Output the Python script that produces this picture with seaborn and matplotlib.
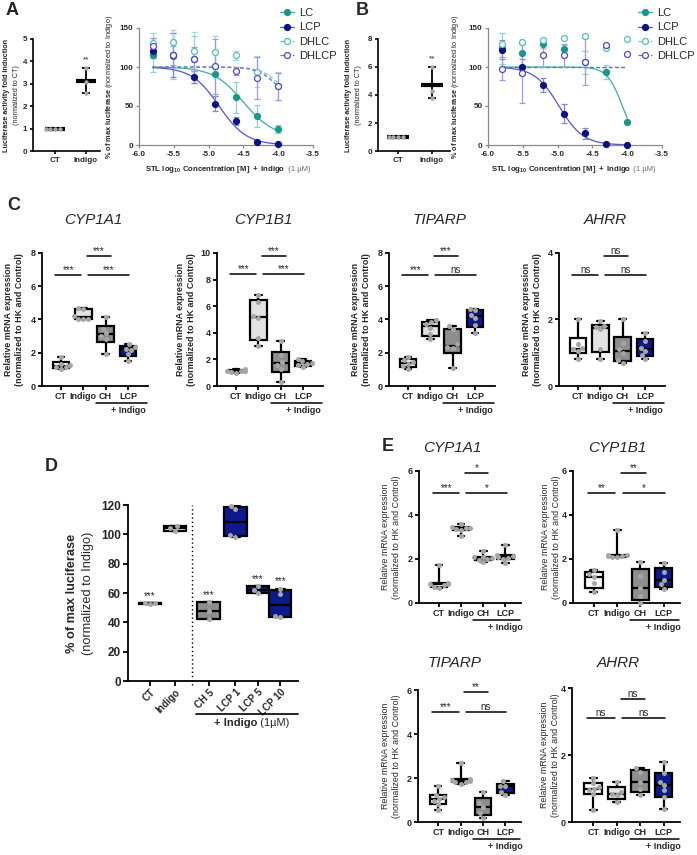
import numpy as np
import pandas as pd
import matplotlib.pyplot as plt
from matplotlib.lines import Line2D
import seaborn as sns
import warnings

warnings.filterwarnings('ignore')

# ---------------- data ----------------
# A / B : dose response, log10 concentration [M]
log_conc = [-5.806, -5.505, -5.204, -4.903, -4.602, -4.301, -4.0]
series_names = ['LC', 'LCP', 'DHLC', 'DHLCP']

a_lc = [115, 114, 110, 91, 61, 37, 21]
a_lc_err = [22, 30, 30, 28, 20, 14, 5]
a_lcp = [121, 115, 87, 53, 31, 4, 1]
a_lcp_err = [10, 28, 8, 10, 5, 1, 1]
a_dhlc = [131, 132, 120, 119, 115, 94, 76]
a_dhlc_err = [12, 15, 25, 21, 6, 20, 18]
a_dhlcp = [127, 115, 110, 101, 95, 86, 75]
a_dhlcp_err = [10, 12, 15, 35, 5, 27, 17]

b_lc = [124, 118, 129, 123, 106, 94, 30]
b_lc_err = [20, 15, 5, 5, 15, 9, 1]
b_lcp = [122, 100, 77, 40, 15, 1, 0]
b_lcp_err = [12, 10, 9, 12, 7, 0, 0]
b_dhlc = [130, 132, 135, 137, 140, 124, 136]
b_dhlc_err = [0, 0, 0, 0, 0, 0, 0]
b_dhlcp = [98, 92, 115, 115, 107, 128, 117]
b_dhlcp_err = [15, 38, 15, 15, 30, 0, 0]

# fitted 4PL curves: top, bottom, logIC50, hill (LC, LCP, DHLC, DHLCP)
a_fit_top = [100, 100, 100, 100]
a_fit_bottom = [10, 0, 50, 50]
a_fit_logic50 = [-4.5, -4.85, -3.95, -4.0]
a_fit_hill = [2.0, 2.2, 3.0, 3.0]
b_fit_top = [100, 100, 100, 100]
b_fit_bottom = [0, 0, 100, 100]
b_fit_logic50 = [-4.07, -4.98, -4.0, -4.0]
b_fit_hill = [4.0, 2.5, 1.0, 1.0]

# A / B insets: fold induction
fold_groups = ['CT', 'Indigo']
a_fold_ct = [1.0, 1.0, 1.0, 1.0]
a_fold_indigo = [2.6, 3.1, 3.7]
b_fold_ct = [1.0, 1.0, 1.0, 1.0]
b_fold_indigo = [3.8, 4.3, 6.0]

# C / E : relative mRNA expression
qpcr_groups = ['CT', 'Indigo', 'CH', 'LCP']
c_cyp1a1 = [[1.0, 1.13, 1.15, 1.25, 1.35, 1.75], [4.0, 4.02, 4.05, 4.2, 4.62, 4.68],
            [1.95, 2.85, 3.0, 3.2, 3.45, 4.15], [1.5, 1.9, 2.15, 2.25, 2.35, 2.5]]
c_cyp1b1 = [[1.0, 1.05, 1.1, 1.12, 1.15, 1.25], [3.0, 3.6, 5.15, 5.25, 6.35, 6.85],
            [0.3, 1.3, 1.6, 1.8, 2.3, 3.4], [1.4, 1.55, 1.65, 1.75, 1.85, 2.0]]
c_tiparp = [[1.05, 1.2, 1.35, 1.45, 1.55, 1.75], [2.8, 3.1, 3.5, 3.7, 3.85, 3.95],
            [1.1, 2.3, 2.35, 2.5, 3.4, 3.6], [3.2, 3.65, 4.1, 4.3, 4.55, 4.65]]
c_ahrr = [[0.8, 1.05, 1.1, 1.15, 1.25, 2.0], [0.8, 1.1, 1.7, 1.78, 1.8, 1.95],
          [0.7, 0.78, 1.0, 1.1, 1.3, 2.0], [0.8, 0.92, 1.05, 1.15, 1.35, 1.6]]

e_cyp1a1 = [[0.7, 0.75, 0.8, 0.85, 0.88, 0.9, 1.75], [3.05, 3.3, 3.35, 3.4, 3.42, 3.45, 3.6],
            [1.85, 1.95, 2.0, 2.05, 2.08, 2.1, 2.35], [1.8, 2.0, 2.05, 2.1, 2.15, 2.2, 2.65]]
e_cyp1b1 = [[0.5, 0.9, 1.2, 1.3, 1.5], [2.1, 2.1, 2.12, 2.15, 2.18, 2.2, 3.3],
            [0.0, 0.3, 0.7, 1.25, 1.85], [0.65, 0.85, 1.05, 1.4, 1.8]]
e_tiparp = [[0.55, 0.8, 0.95, 1.05, 1.15, 1.25, 1.65], [1.75, 1.8, 1.82, 1.85, 1.9, 1.95, 2.7],
            [0.2, 0.4, 0.7, 0.85, 1.35], [1.25, 1.35, 1.65, 1.65, 1.85]]
e_ahrr = [[0.35, 0.85, 0.95, 1.0, 1.05, 1.15, 1.3], [0.6, 0.8, 0.85, 0.9, 1.2],
          [0.8, 1.0, 1.2, 1.5, 1.6], [0.4, 0.75, 0.95, 1.1, 1.2, 1.45, 1.8]]

# D : % of max luciferase
d_groups = ['CT', 'Indigo', 'CH 5', 'LCP 1', 'LCP 5', 'LCP 10']
d_values = [[52.8, 53.0, 53.2], [102.5, 104, 105.5], [42.5, 48, 54],
            [98.5, 99.5, 117, 119], [60, 62, 64.5], [43.5, 44.5, 59.5, 63]]
d_stars = ['***', '', '***', '', '***', '***']

# ---------------- style ----------------
sns.set_style('ticks')
plt.rcParams['font.family'] = ['Liberation Sans', 'DejaVu Sans']
plt.rcParams['font.weight'] = 'bold'
plt.rcParams['mathtext.fontset'] = 'custom'
plt.rcParams['mathtext.rm'] = 'Liberation Sans'
plt.rcParams['mathtext.bf'] = 'Liberation Sans:bold'
plt.rcParams['mathtext.it'] = 'Liberation Sans:italic'

WHITE, LIGHT, GREY, NAVY = 'white', '#e2e2e2', '#8e8e8e', '#0c1a8a'
PT = '#a6a6a6'
styles = {
    'LC': dict(line='#3aaea1', err='#8fd4cb', mfc='#1a968a', mec='#1a968a', ls='-'),
    'LCP': dict(line='#5552cc', err='#8985d6', mfc='#0a1382', mec='#0a1382', ls='-'),
    'DHLC': dict(line='#6cc8bd', err='#9fdcd4', mfc='white', mec='#55bfb3', ls=(0, (3, 2))),
    'DHLCP': dict(line='#6d63d0', err='#a09be0', mfc='white', mec='#5148c4', ls=(0, (3, 2))),
}

W, H = 697, 855
fig = plt.figure(figsize=(W / 100, H / 100), dpi=100)


def add_ax(l, t, r, b):
    return fig.add_axes([l / W, 1 - b / H, (r - l) / W, (b - t) / H])


def style_ax(ax, lw=1.3, color='k', fs=6.5, tl=3):
    sns.despine(ax=ax)
    for s in ('left', 'bottom'):
        ax.spines[s].set_linewidth(lw)
        ax.spines[s].set_color(color)
    ax.tick_params(width=lw, length=tl, color=color, labelsize=fs, pad=1.5)
    ax.set_xlabel('')
    ax.set_ylabel('')


def vlabel(x, y, text, fs, weight='bold'):
    fig.text(x / W, 1 - y / H, text, rotation=90, ha='center', va='center',
             fontsize=fs, fontweight=weight, multialignment='center', linespacing=1.15)


def panel_letter(x, y, s):
    fig.text(x / W, 1 - y / H, s, fontsize=13, fontweight='bold', va='top', ha='left')


def sig(ax, x1, x2, y, txt, fs=7):
    ax.plot([x1, x2], [y, y], color='k', lw=1.1, clip_on=False)
    ax.text((x1 + x2) / 2, y, txt, ha='center', va='bottom', fontsize=fs, fontweight='normal')


def points(ax, pts, positions, size):
    df = pd.DataFrame({'pos': np.repeat(positions, [len(p) for p in pts]),
                       'val': np.concatenate(pts)})
    sns.swarmplot(data=df, x='pos', y='val', native_scale=True, color=PT, size=size,
                  ax=ax, zorder=3, clip_on=False)


def box_panel(ax, pts, colors, positions, width):
    stats = []
    for p in pts:
        q1, med, q3 = np.percentile(p, [25, 50, 75], method='weibull')
        stats.append(dict(q1=q1, med=med, q3=q3, whislo=min(p), whishi=max(p)))
    bp = ax.bxp(stats, positions=positions, widths=width, capwidths=width * 0.4,
                patch_artist=True, showfliers=False, manage_ticks=False,
                boxprops=dict(lw=1.6, edgecolor='k'), medianprops=dict(color='k', lw=1.6),
                whiskerprops=dict(color='k', lw=1.6), capprops=dict(color='k', lw=1.6))
    for patch, c in zip(bp['boxes'], colors):
        patch.set_facecolor(c)
    points(ax, pts, positions, 3.6)


def qpcr_panel(box, pts, colors, ymax, yticks, stars, levels, xlim, title, title_xy,
               ylab_x, bold_label=True):
    ax = add_ax(*box)
    ax.set_ylim(0, ymax)
    box_panel(ax, pts, colors, list(range(4)), 0.74)
    ax.set_xlim(*xlim)
    ax.set_ylim(0, ymax)
    ax.set_yticks(yticks)
    ax.set_xticks(range(4))
    ax.set_xticklabels(qpcr_groups)
    style_ax(ax)
    sig(ax, -0.27, 0.92, levels[0], stars[0])
    sig(ax, 1.17, 2.22, levels[1], stars[1])
    sig(ax, 1.23, 3.05, levels[0], stars[2])
    tr = ax.get_xaxis_transform()
    ax.plot([1.55, xlim[1] - 0.05], [-0.128, -0.128], color='k', lw=1.1, transform=tr, clip_on=False)
    ax.text(3.0, -0.15, '+ Indigo', transform=tr, ha='center', va='top', fontsize=6.5)
    fig.text(title_xy[0] / W, 1 - title_xy[1] / H, title, fontsize=11, style='italic',
             fontweight='normal', ha='center', va='center')
    yc = (box[1] + box[3]) / 2
    vlabel(ylab_x, yc, 'Relative mRNA expression\n(normalized to HK and Control)', 6.4,
           'bold' if bold_label else 'normal')
    return ax


def dose_panel(box, data, errs, tops, bottoms, ic50s, hills, ylab_x, xlab_frac):
    ax = add_ax(*box)
    xs = np.linspace(log_conc[0], log_conc[-1], 200)
    for name, y, e, top, bot, c50, h in zip(series_names, data, errs, tops, bottoms, ic50s, hills):
        st = styles[name]
        fit = bot + (top - bot) / (1 + 10 ** ((xs - c50) * h))
        sns.lineplot(x=xs, y=fit, ax=ax, color=st['line'], lw=0.9, linestyle=st['ls'])
        ax.errorbar(log_conc, y, yerr=e, fmt='none', ecolor=st['err'], elinewidth=0.9,
                    capsize=2.5, capthick=0.9, clip_on=False)
        ax.plot(log_conc, y, 'o', ms=4.3, mfc=st['mfc'], mec=st['mec'], mew=0.9,
                ls='none', clip_on=False, zorder=4)
    ax.set_xlim(-6.0, -3.5)
    ax.set_ylim(0, 150)
    ax.set_xticks([-6.0, -5.5, -5.0, -4.5, -4.0, -3.5])
    ax.set_xticklabels(['-6.0', '-5.5', '-5.0', '-4.5', '-4.0', '-3.5'])
    ax.set_yticks([0, 50, 100, 150])
    style_ax(ax, lw=0.9, color='#8a8a8a', fs=5.8, tl=2.5)
    t1 = ax.text(xlab_frac, -0.16, r'$\mathbf{STL\ log_{10}\ Concentration\ [M]\ +\ Indigo}$',
                 transform=ax.transAxes, ha='center', va='top', fontsize=5.6)
    ax.annotate(' (1 µM)', xy=(1, 0.12), xycoords=t1, ha='left', va='bottom',
                fontsize=5.6, fontweight='normal', color='#6a6a6a')
    fig.text(ylab_x / W, 1 - ((box[1] + box[3]) / 2) / H,
             r'$\mathbf{\%\ of\ max\ luciferase}$ (normalized to Indigo)', rotation=90,
             ha='center', va='center', fontsize=5.3, fontweight='normal')
    return ax


def fold_panel(box, pts, ymax, yticks, star_y, ylab_xs, xlim):
    ax = add_ax(*box)
    ax.set_xlim(*xlim)
    ax.set_ylim(0, ymax)
    for i, p in enumerate(pts):
        m = np.mean(p)
        ax.errorbar(i, m, yerr=[[m - min(p)], [max(p) - m]], fmt='none', ecolor='k',
                    elinewidth=1.3, capsize=3, capthick=1.3)
        ax.hlines(m, i - 0.32, i + 0.32, color='k', lw=3)
    points(ax, pts, [0, 1], 3.2)
    ax.text(1, star_y, '**', ha='center', va='bottom', fontsize=6, fontweight='normal')
    ax.set_xlim(*xlim)
    ax.set_ylim(0, ymax)
    ax.set_yticks(yticks)
    ax.set_xticks([0, 1])
    ax.set_xticklabels(fold_groups)
    style_ax(ax, lw=1.2, fs=5.8, tl=2.5)
    yc = (box[1] + box[3]) / 2
    vlabel(ylab_xs[0], yc, 'Luciferase activity fold induction', 5.2, 'bold')
    vlabel(ylab_xs[1], yc, '(normalized to CT)', 5.2, 'normal')
    return ax


# ---------------- A ----------------
panel_letter(6, 2, 'A')
fold_panel((33, 39, 100, 151), [a_fold_ct, a_fold_indigo], 5, [0, 1, 2, 3, 4, 5], 3.9, (7, 16),
           (-0.71, 1.45))
dose_panel((139, 28, 313, 145), [a_lc, a_lcp, a_dhlc, a_dhlcp],
           [a_lc_err, a_lcp_err, a_dhlc_err, a_dhlcp_err],
           a_fit_top, a_fit_bottom, a_fit_logic50, a_fit_hill, 110, 0.44)

# ---------------- B ----------------
panel_letter(356, 2, 'B')
fold_panel((378, 39, 450, 151), [b_fold_ct, b_fold_indigo], 8, [0, 2, 4, 6, 8], 6.3, (349, 358),
           (-0.59, 1.53))
dose_panel((488, 28, 662, 145), [b_lc, b_lcp, b_dhlc, b_dhlcp],
           [b_lc_err, b_lcp_err, b_dhlc_err, b_dhlcp_err],
           b_fit_top, b_fit_bottom, b_fit_logic50, b_fit_hill, 456, 0.42)

handles = [Line2D([], [], color=styles[n]['line'], ls=styles[n]['ls'], lw=0.9, marker='o', ms=4.3,
                  mfc=styles[n]['mfc'], mec=styles[n]['mec'], mew=0.9) for n in series_names]
for x0 in (280, 638):
    fig.legend(handles, series_names, loc='upper left', bbox_to_anchor=(x0 / W, 1 - 8 / H),
               frameon=False, prop=dict(size=8, weight='normal'), handlelength=1.3,
               handletextpad=0.4, labelspacing=0.4, borderpad=0, borderaxespad=0)

# ---------------- C ----------------
panel_letter(7, 197, 'C')
c_xlim = (-0.85, 3.9)
qpcr_panel((42, 253, 148, 386), c_cyp1a1, [WHITE, LIGHT, GREY, NAVY], 8, [0, 2, 4, 6, 8],
           ['***', '***', '***'], [6.7, 7.8], c_xlim, 'CYP1A1', (93, 220), 14)
qpcr_panel((217, 253, 323, 386), c_cyp1b1, [WHITE, LIGHT, GREY, LIGHT], 10, [0, 2, 4, 6, 8, 10],
           ['***', '***', '***'], [8.4, 9.75], c_xlim, 'CYP1B1', (263, 220), 186)
qpcr_panel((389, 253, 495, 386), c_tiparp, [WHITE, LIGHT, GREY, NAVY], 8, [0, 2, 4, 6, 8],
           ['***', '***', 'ns'], [6.7, 7.8], c_xlim, 'TIPARP', (440, 220), 361)
qpcr_panel((559, 253, 665, 386), c_ahrr, [WHITE, LIGHT, GREY, NAVY], 4, [0, 2, 4],
           ['ns', 'ns', 'ns'], [3.35, 3.9], c_xlim, 'AHRR', (605, 220), 532)

# ---------------- D ----------------
panel_letter(45, 458, 'D')
d_pos = [0, 1.1, 2.6, 3.8, 4.8, 5.8]
ax = add_ax(128, 505, 298, 681)
ax.set_xlim(-0.98, 6.58)
ax.set_ylim(0, 120)
box_panel(ax, d_values, [WHITE, WHITE, GREY, NAVY, NAVY, NAVY], d_pos, 0.98)
ax.axvline(1.87, color='k', lw=1.0, ls=(0, (1, 2)), ymin=-0.02, ymax=1.0, clip_on=False)
for x, v, s in zip(d_pos, d_values, d_stars):
    if s:
        ax.text(x, max(v) + 1.5, s, ha='center', va='bottom', fontsize=7, fontweight='normal')
ax.set_xlim(-0.98, 6.58)
ax.set_ylim(0, 120)
ax.set_yticks(range(0, 121, 20))
ax.set_xticks(d_pos)
ax.set_xticklabels(d_groups, rotation=45, ha='right', rotation_mode='anchor')
style_ax(ax, lw=1.3, fs=8.5, tl=3.5)
ax.tick_params(axis='x', labelsize=7.0, pad=1)
tr = ax.get_xaxis_transform()
ax.plot([2.04, 6.58], [-0.19, -0.19], color='k', lw=1.2, transform=tr, clip_on=False)
t1 = ax.text(3.8, -0.212, '+ Indigo', transform=tr, ha='center', va='top', fontsize=8)
ax.annotate(' (1µM)', xy=(1, 0), xycoords=t1, ha='left', va='bottom', fontsize=8,
            fontweight='normal')
vlabel(72, 593, '% of max luciferase', 9.2, 'bold')
vlabel(88, 593, '(normalized to Indigo)', 9.2, 'normal')

# ---------------- E ----------------
panel_letter(382, 438, 'E')
e_xlim = (-0.9, 3.7)
qpcr_panel((419, 471, 521, 603), e_cyp1a1, [WHITE, LIGHT, GREY, NAVY], 6, [0, 2, 4, 6],
           ['***', '*', '*'], [5.0, 5.9], e_xlim, 'CYP1A1', (452, 448), 391, False)
qpcr_panel((573, 471, 680, 603), e_cyp1b1, [WHITE, LIGHT, GREY, NAVY], 6, [0, 2, 4, 6],
           ['**', '**', '*'], [5.0, 5.9], e_xlim, 'CYP1B1', (617, 448), 551, False)
qpcr_panel((418, 690, 521, 822), e_tiparp, [WHITE, LIGHT, GREY, NAVY], 6, [0, 2, 4, 6],
           ['***', '**', 'ns'], [5.0, 5.9], e_xlim, 'TIPARP', (455, 663), 391, False)
qpcr_panel((572, 688, 680, 822), e_ahrr, [WHITE, LIGHT, GREY, NAVY], 4, [0, 2, 4],
           ['ns', 'ns', 'ns'], [3.1, 3.67], e_xlim, 'AHRR', (618, 663), 550, False)

fig.savefig('out.png', dpi=100)
